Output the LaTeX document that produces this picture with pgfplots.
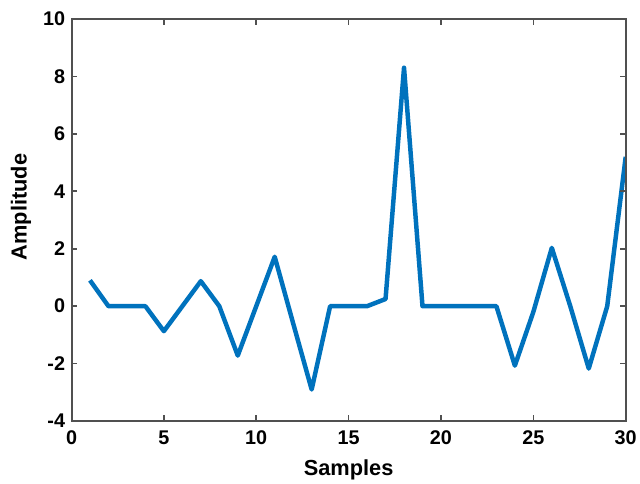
\documentclass[border=0pt]{standalone}
\usepackage{pgfplots}
\pgfplotsset{compat=1.18}
\usepackage{fontspec}
\setmainfont{Liberation Sans}
\definecolor{mblue}{RGB}{0,114,189}
\definecolor{axgray}{RGB}{80,80,80}
\begin{document}
\begin{tikzpicture}
\begin{axis}[
    scale only axis,
    width=558bp, height=405bp,
    xmin=0, xmax=30, ymin=-4, ymax=10,
    xtick={0,5,...,30},
    ytick={-4,-2,...,10},
    axis on top,
    tick align=inside,
    major tick length=6bp,
    axis line style={draw=axgray, line width=2bp},
    major tick style={draw=axgray, line width=1.6bp},
    tick label style={font=\bfseries\fontsize{20}{22}\selectfont},
    xticklabel style={yshift=-6bp},
    yticklabel style={xshift=-3bp},
    /pgf/number format/assume math mode=true,
    xlabel={Samples}, ylabel={Amplitude},
    label style={font=\bfseries\fontsize{22}{24}\selectfont},
    xlabel style={at={(axis description cs:0.5,0)}, anchor=center, yshift=-49bp},
    ylabel style={yshift=5bp, xshift=13bp},
]
\addplot[mblue, line width=4.5bp, line join=round] coordinates {
(1,0.9) (2,0) (3,0) (4,0) (5,-0.87) (6,0) (7,0.87) (8,0) (9,-1.72) (10,0)
(11,1.72) (12,-0.6) (13,-2.9) (14,0) (15,0) (16,0) (17,0.25) (18,8.3) (19,0) (20,0)
(21,0) (22,0) (23,0) (24,-2.07) (25,-0.2) (26,2.03) (27,0) (28,-2.17) (29,0) (30,5.2)
};
\end{axis}
\path[use as bounding box] ([shift={(-72bp,-62bp)}]current axis.south west) rectangle ([shift={(10bp,19bp)}]current axis.north east);
\end{tikzpicture}
\end{document}
